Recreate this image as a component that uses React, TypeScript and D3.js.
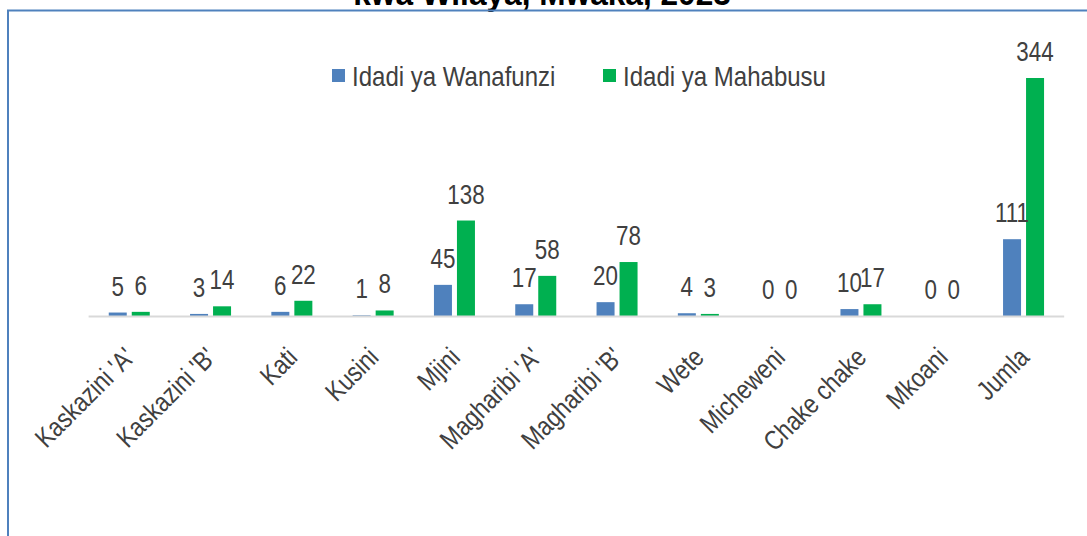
import React from "react";
import * as d3 from "d3";

const categories = ["Kaskazini 'A'", "Kaskazini 'B'", "Kati", "Kusini", "Mjini", "Magharibi 'A'", "Magharibi 'B'", "Wete", "Micheweni", "Chake chake", "Mkoani", "Jumla"];
const wanafunzi = [5, 3, 6, 1, 45, 17, 20, 4, 0, 10, 0, 111];
const mahabusu = [6, 14, 22, 8, 138, 58, 78, 3, 0, 17, 0, 344];
const seriesNames = ["Idadi ya Wanafunzi", "Idadi ya Mahabusu"];
const title = "kwa Wilaya, Mwaka, 2023";

const W = 1087, H = 536;
const FONT = "'Liberation Sans Narrow', 'Arial Narrow', 'Liberation Sans', Arial, sans-serif";
const colors = ["#4f81bd", "#00b050"];
const TXT = "#404040";

export default function App() {
  const x = d3.scaleBand<string>().domain(categories).range([88.6, 1064.2]);
  const y = d3.scaleLinear().domain([0, 344]).range([316, 78]);
  const barW = 18;
  const offs = [-11.5, 11.5];
  const series = [wanafunzi, mahabusu];
  const cx = (c: string) => (x(c) as number) + x.bandwidth() / 2;

  return (
    <svg width={W} height={H} style={{ position: "absolute", left: 0, top: 0, background: "#fff" }} fontFamily={FONT}>
      <rect x={0} y={0} width={W} height={H} fill="#fff" />
      <text transform={`translate(542,5) scale(0.93,1)`} textAnchor="middle" fontWeight="bold" fontSize={34} fill="#000">{title}</text>
      <path d={`M8,${H} V10.5 H${W}`} fill="none" stroke="#4f81bd" strokeWidth={2} />
      {/* legend */}
      <g>
        <rect x={332} y={69} width={13} height={13} fill={colors[0]} />
        <text transform="translate(352,86) scale(0.89,1)" fontSize={27} fill={TXT}>{seriesNames[0]}</text>
        <rect x={603} y={69} width={13} height={13} fill={colors[1]} />
        <text transform="translate(623,86) scale(0.89,1)" fontSize={27} fill={TXT}>{seriesNames[1]}</text>
      </g>
      {/* bars */}
      {series.map((vals, si) =>
        categories.map((c, i) => (
          <rect key={`b${si}-${i}`} x={cx(c) + offs[si] - barW / 2} y={y(vals[i])} width={barW} height={y(0) - y(vals[i])} fill={colors[si]} />
        ))
      )}
      {/* axis */}
      <line x1={88.6} x2={1064.2} y1={316.5} y2={316.5} stroke="#d9d9d9" strokeWidth={2} />
      {/* data labels */}
      {series.map((vals, si) =>
        categories.map((c, i) => (
          <text key={`l${si}-${i}`} transform={`translate(${cx(c) + offs[si]},${y(vals[i]) - 17}) scale(0.8,1)`} textAnchor="middle" fontSize={28} fill={TXT}>{vals[i]}</text>
        ))
      )}
      {/* category labels */}
      {categories.map((c) => (
        <text key={`c${c}`} transform={`translate(${cx(c) + 7},${359}) rotate(-45) scale(0.84,1)`} textAnchor="end" fontSize={27} fill={TXT}>{c}</text>
      ))}
    </svg>
  );
}
